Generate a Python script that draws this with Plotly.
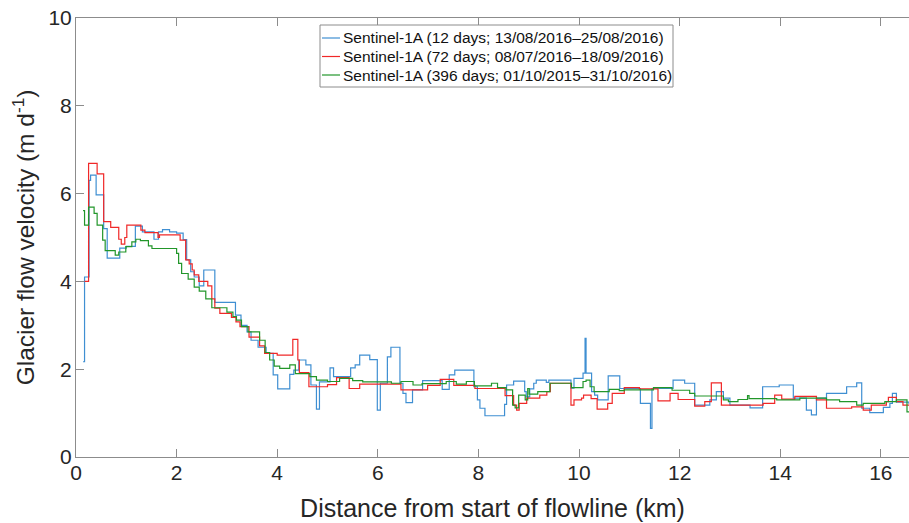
import plotly.graph_objects as go

# ---- data (distance km, velocity m/d), step profiles ----
blue_km = [0.14, 0.17, 0.26, 0.29, 0.40, 0.55, 0.62, 0.87, 1.00, 1.18,
           1.32, 1.55, 1.64, 1.72, 1.86, 2.00, 2.13, 2.20, 2.28, 2.35,
           2.45, 2.54, 2.76, 3.17, 3.28, 3.40, 3.48, 3.62, 3.78, 3.92,
           4.01, 4.25, 4.33, 4.43, 4.57, 4.67, 4.78, 4.84, 5.05, 5.12,
           5.46, 5.55, 5.64, 5.84, 5.99, 6.05, 6.19, 6.26, 6.44, 6.50,
           6.56, 6.69, 6.89, 7.28, 7.42, 7.53, 7.91, 7.98, 8.03, 8.13,
           8.52, 8.56, 8.70, 8.92, 8.95, 9.02, 9.10, 9.15, 9.35, 9.40,
           9.84, 9.90, 10.08, 10.12, 10.14, 10.25, 10.31, 10.37, 10.58, 10.81,
           11.22, 11.42, 11.45, 11.87, 12.10, 12.30, 12.60, 12.73, 12.87, 13.00,
           13.40, 13.65, 13.98, 14.26, 14.52, 14.62, 14.72, 14.92, 15.32, 15.52,
           15.62, 15.78, 16.05, 16.18, 16.23, 16.31, 16.56]
blue_v = [2.17, 4.10, 6.30, 6.42, 5.97, 5.20, 4.53, 4.76, 4.80, 5.26,
          5.13, 4.96, 5.13, 5.18, 5.13, 5.10, 4.95, 4.49, 4.22, 4.10,
          3.90, 4.26, 3.52, 3.23, 3.00, 2.85, 2.66, 2.50, 2.36, 1.87,
          1.55, 1.88, 1.98, 2.21, 2.10, 1.64, 1.09, 1.71, 2.03, 1.83,
          2.03, 2.10, 2.32, 2.22, 1.07, 1.68, 2.28, 2.50, 1.68, 1.45,
          1.24, 1.53, 1.74, 1.54, 1.87, 1.98, 1.60, 1.30, 1.11, 0.94,
          1.20, 1.64, 1.73, 1.49, 1.37, 1.55, 1.68, 1.75, 1.70, 1.75,
          1.57, 1.79, 1.91, 2.70, 1.91, 1.49, 1.41, 1.30, 1.85, 1.56,
          1.22, 0.65, 1.56, 1.75, 1.68, 1.18, 1.30, 1.49, 1.34, 1.18,
          1.12, 1.60, 1.64, 1.34, 1.07, 0.96, 1.34, 1.45, 1.60, 1.69,
          1.11, 1.01, 1.13, 1.22, 1.45, 1.25, 1.20]

red_km = [0.17, 0.25, 0.42, 0.55, 0.69, 0.85, 0.90, 0.97, 1.01, 1.29,
          1.37, 1.63, 1.66, 2.07, 2.18, 2.25, 2.31, 2.35, 2.44, 2.62,
          2.70, 2.76, 2.86, 3.09, 3.18, 3.26, 3.44, 3.65, 3.75, 4.00,
          4.31, 4.41, 4.44, 4.63, 5.00, 5.18, 5.43, 5.64, 6.46, 6.99,
          7.24, 7.51, 7.93, 8.53, 8.70, 8.76, 8.81, 8.96, 9.22, 9.36,
          9.43, 9.84, 9.90, 10.05, 10.09, 10.24, 10.36, 10.57, 10.66, 10.90,
          11.20, 11.57, 11.81, 11.97, 12.30, 12.50, 12.63, 12.83, 13.66, 13.89,
          14.03, 14.29, 14.72, 14.92, 15.42, 15.65, 15.81, 16.11, 16.15, 16.31,
          16.44, 16.56]
red_v = [4.00, 6.69, 6.45, 5.36, 5.23, 4.96, 4.85, 5.00, 5.28, 5.17,
         5.11, 5.00, 5.06, 4.94, 4.49, 4.40, 4.26, 4.15, 4.00, 3.90,
         3.60, 3.39, 3.27, 3.18, 3.08, 2.97, 2.73, 2.53, 2.36, 2.32,
         2.68, 2.21, 1.92, 1.60, 1.65, 1.81, 1.56, 1.66, 1.53, 1.63,
         1.77, 1.63, 1.56, 1.40, 1.18, 1.07, 1.22, 1.34, 1.41, 1.49,
         1.68, 1.18, 1.30, 1.34, 1.41, 1.33, 1.09, 1.22, 1.45, 1.58,
         1.55, 1.28, 1.45, 1.31, 1.16, 1.26, 1.69, 1.18, 1.22, 1.41,
         1.32, 1.38, 1.30, 1.11, 1.14, 1.07, 1.18, 1.26, 1.36, 1.26,
         1.18, 1.18]

green_km = [0.14, 0.17, 0.25, 0.36, 0.42, 0.53, 0.58, 0.78, 0.85, 0.99,
            1.11, 1.19, 1.28, 1.44, 1.51, 2.00, 2.04, 2.10, 2.23, 2.35,
            2.45, 2.58, 2.70, 3.00, 3.12, 3.19, 3.29, 3.42, 3.65, 3.76,
            3.85, 3.94, 4.05, 4.25, 4.36, 4.65, 4.78, 5.00, 5.24, 5.50,
            5.70, 6.27, 6.46, 6.70, 6.88, 7.36, 7.56, 7.76, 7.92, 8.26,
            8.38, 8.55, 8.68, 8.73, 8.80, 8.93, 8.98, 9.01, 9.18, 9.42,
            9.85, 10.08, 10.14, 10.22, 10.30, 10.60, 10.80, 10.90, 11.48, 11.85,
            12.20, 12.30, 12.87, 12.97, 13.16, 13.35, 13.38, 13.93, 14.39, 14.92,
            15.18, 15.52, 15.65, 16.08, 16.31, 16.52, 16.56]
green_v = [5.61, 5.28, 5.69, 5.55, 5.28, 4.94, 4.70, 4.60, 4.67, 4.79,
           4.90, 4.96, 4.93, 4.81, 4.75, 4.64, 4.41, 4.18, 4.05, 3.87,
           3.78, 3.60, 3.40, 3.30, 3.20, 3.12, 2.97, 2.85, 2.66, 2.38,
           2.21, 2.07, 2.02, 2.10, 1.90, 1.83, 1.75, 1.72, 1.79, 1.74,
           1.71, 1.68, 1.72, 1.64, 1.67, 1.72, 1.66, 1.72, 1.62, 1.68,
           1.58, 1.53, 1.18, 1.12, 1.41, 1.30, 1.56, 1.43, 1.49, 1.68,
           1.58, 1.72, 1.75, 1.60, 1.49, 1.54, 1.51, 1.53, 1.58, 1.52,
           1.45, 1.39, 1.30, 1.26, 1.31, 1.40, 1.33, 1.30, 1.34, 1.30,
           1.26, 1.18, 1.22, 1.26, 1.30, 1.03, 1.03]

series_names = [
    "Sentinel-1A (12 days; 13/08/2016\u201325/08/2016)",
    "Sentinel-1A (72 days; 08/07/2016\u201318/09/2016)",
    "Sentinel-1A (396 days; 01/10/2015\u201331/10/2016)",
]
x_ticks = [0, 2, 4, 6, 8, 10, 12, 14, 16]
y_ticks = [0, 2, 4, 6, 8, 10]

colors = ["#3f8fd2", "#f02828", "#22962a"]
FONT = "Liberation Sans, Arial, sans-serif"
TXT = "#262626"

fig = go.Figure()
for xs, ys, name, c in zip([blue_km, red_km, green_km],
                           [blue_v, red_v, green_v], series_names, colors):
    fig.add_trace(go.Scatter(x=xs, y=ys, mode="lines", name=name,
                             line=dict(color=c, width=1.2, shape="hv"),
                             showlegend=False))

axis_common = dict(showline=True, linecolor="#8c8c8c", linewidth=1,
                   ticks="inside", tickcolor="#8c8c8c", ticklen=8,
                   showgrid=False, zeroline=False, automargin=False,
                   tickfont=dict(family=FONT, size=21, color=TXT))

# custom legend (MATLAB style: short line samples, boxed)
W, H = 909, 523
L, R, T, B = 76, 0, 18, 66
pw, ph = W - L - R, H - T - B


def px(xp):
    return (xp - L) / pw


def py(yp):
    return (H - B - yp) / ph


shapes = [dict(type="rect", xref="paper", yref="paper",
               x0=px(320), x1=px(673), y0=py(87), y1=py(25),
               line=dict(color="#8c8c8c", width=1), fillcolor="white",
               layer="above")]
annotations = []
row_y = [38, 56.5, 75]
for name, c, yy in zip(series_names, colors, row_y):
    shapes.append(dict(type="line", xref="paper", yref="paper",
                       x0=px(322), x1=px(340), y0=py(yy), y1=py(yy),
                       line=dict(color=c, width=1.2), layer="above"))
    annotations.append(dict(text=name, xref="paper", yref="paper",
                            x=px(341), y=py(yy), xanchor="left",
                            yanchor="middle", showarrow=False,
                            font=dict(family=FONT, size=15.5, color="#111111")))

fig.update_layout(
    width=W, height=H,
    margin=dict(l=L, r=R, t=T, b=B),
    paper_bgcolor="white", plot_bgcolor="white",
    font=dict(family=FONT, color=TXT),
    xaxis=dict(range=[0, 16.56], tickvals=x_ticks, mirror="ticks",
               ticklabelstandoff=-3,
               title=dict(text="Distance from start of flowline (km)",
                          font=dict(family=FONT, size=25, color=TXT),
                          standoff=16),
               **axis_common),
    yaxis=dict(range=[0, 10], tickvals=y_ticks, ticklabelstandoff=-1,
               title=dict(text="Glacier flow velocity (m d<sup>-1</sup>)",
                          font=dict(family=FONT, size=24.5, color=TXT),
                          standoff=6),
               **axis_common),
    shapes=shapes,
    annotations=annotations,
    showlegend=False,
)

fig.write_html("out.html", config={"displayModeBar": False},
               post_script="document.body.style.margin='0';"
                           "document.body.style.padding='0';")
